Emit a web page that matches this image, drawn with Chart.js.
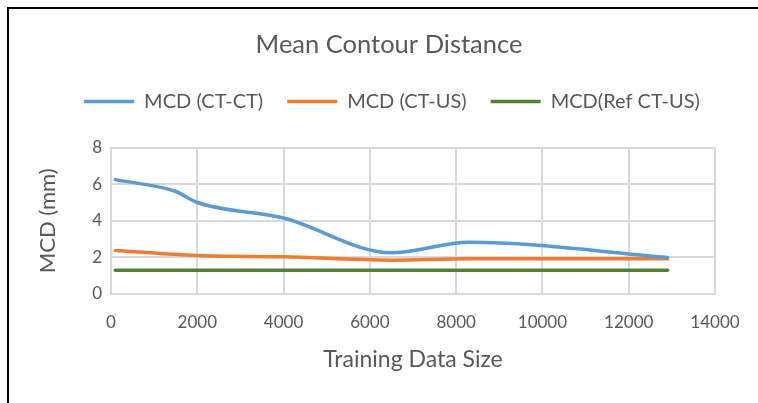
<!DOCTYPE html>
<html>
<head>
<meta charset="utf-8">
<script src="https://cdn.jsdelivr.net/npm/chart.js@4"></script>
<style>
  html, body { margin: 0; padding: 0; background: #fff; }
  #wrap { position: relative; width: 758px; height: 403px; overflow: hidden; }
  #frame { position: absolute; left: 7px; top: 7px; width: 800px; height: 450px;
           border-left: 2px solid #000; border-top: 2px solid #000; pointer-events: none; }
</style>
</head>
<body>
<div id="wrap">
  <canvas id="mcdChart" width="758" height="403"></canvas>
  <div id="frame"></div>
</div>
<script>
// values
const ctCtSize  = [100, 1500, 2000, 4000, 6500, 8300, 12900];
const ctCtMcd   = [6.25, 5.6, 5.0, 4.15, 2.25, 2.83, 2.0];
const ctUsSize  = [100, 2000, 4000, 6500, 8300, 12900];
const ctUsMcd   = [2.38, 2.1, 2.03, 1.85, 1.92, 1.92];
const refSize   = [100, 12900];
const refMcd    = [1.3, 1.3];
const xTicks    = [0, 2000, 4000, 6000, 8000, 10000, 12000, 14000];
const yTicks    = [0, 2, 4, 6, 8];

const toPoints = (xs, ys) => xs.map((x, i) => ({ x: x, y: ys[i] }));

const FONT = 'Lato, "Open Sans", sans-serif';
const GREY = '#595959';
const GRID = '#d9d9d9';

// push the plot down a bit below the legend
const legendGap = {
  id: 'legendGap',
  beforeInit(chart) {
    const fit = chart.legend.fit;
    chart.legend.fit = function () {
      fit.bind(chart.legend)();
      this.height += 26;
    };
  }
};

// center title and legend like the original (not over the full canvas)
const centerBlocks = {
  id: 'centerBlocks',
  afterLayout(chart) {
    chart.titleBlock.left = 0;
    chart.titleBlock.right = 778;
    chart.legend.left = 0;
    chart.legend.right = 784;
  }
};

const ctx = document.getElementById('mcdChart');
new Chart(ctx, {
  type: 'line',
  data: {
    datasets: [
      { label: 'MCD (CT-CT)', data: toPoints(ctCtSize, ctCtMcd), borderColor: '#5B9BD5', backgroundColor: '#5B9BD5', borderWidth: 3.5 },
      { label: 'MCD (CT-US)', data: toPoints(ctUsSize, ctUsMcd), borderColor: '#ED7D31', backgroundColor: '#ED7D31', borderWidth: 3.5 },
      { label: 'MCD(Ref CT-US)', data: toPoints(refSize, refMcd), borderColor: '#548235', backgroundColor: '#548235', borderWidth: 3.5 }
    ]
  },
  options: {
    responsive: false,
    animation: false,
    layout: { padding: { left: 0, right: 43, top: 0, bottom: 0 } },
    elements: {
      point: { radius: 0 },
      line: { cubicInterpolationMode: 'monotone', borderCapStyle: 'round' }
    },
    plugins: {
      title: {
        display: true,
        text: 'Mean Contour Distance',
        color: GREY,
        font: { family: FONT, size: 25.5, weight: 'normal' },
        padding: { top: 29, bottom: 8 }
      },
      legend: {
        position: 'top',
        labels: {
          color: GREY,
          font: { family: FONT, size: 20 },
          usePointStyle: true,
          pointStyle: 'line',
          pointStyleWidth: 50,
          padding: 24
        }
      },
      tooltip: { enabled: false }
    },
    scales: {
      x: {
        type: 'linear',
        min: 0,
        max: 14000,
        afterBuildTicks(scale) { scale.ticks = xTicks.map(v => ({ value: v })); },
        afterFit(scale) { scale.height = 109; },
        ticks: { color: GREY, font: { family: FONT, size: 17 }, padding: 18, maxRotation: 0,
                 callback: (v) => String(v) },
        grid: { color: GRID, lineWidth: 2, drawTicks: false },
        border: { color: GRID, width: 2 },
        title: { display: true, text: 'Training Data Size', color: GREY,
                 font: { family: FONT, size: 23 }, padding: { top: 0, bottom: 30 } }
      },
      y: {
        min: 0,
        max: 8,
        afterBuildTicks(scale) { scale.ticks = yTicks.map(v => ({ value: v })); },
        afterFit(scale) { scale.width = 111; },
        ticks: { color: GREY, font: { family: FONT, size: 17 }, padding: 9,
                 callback: (v) => String(v) },
        grid: { color: GRID, lineWidth: 2, drawTicks: false },
        border: { color: GRID, width: 2 },
        title: { display: true, text: 'MCD (mm)', color: GREY,
                 font: { family: FONT, size: 22 }, padding: { top: 35, bottom: 0 } }
      }
    }
  },
  plugins: [legendGap, centerBlocks]
});
</script>
</body>
</html>
